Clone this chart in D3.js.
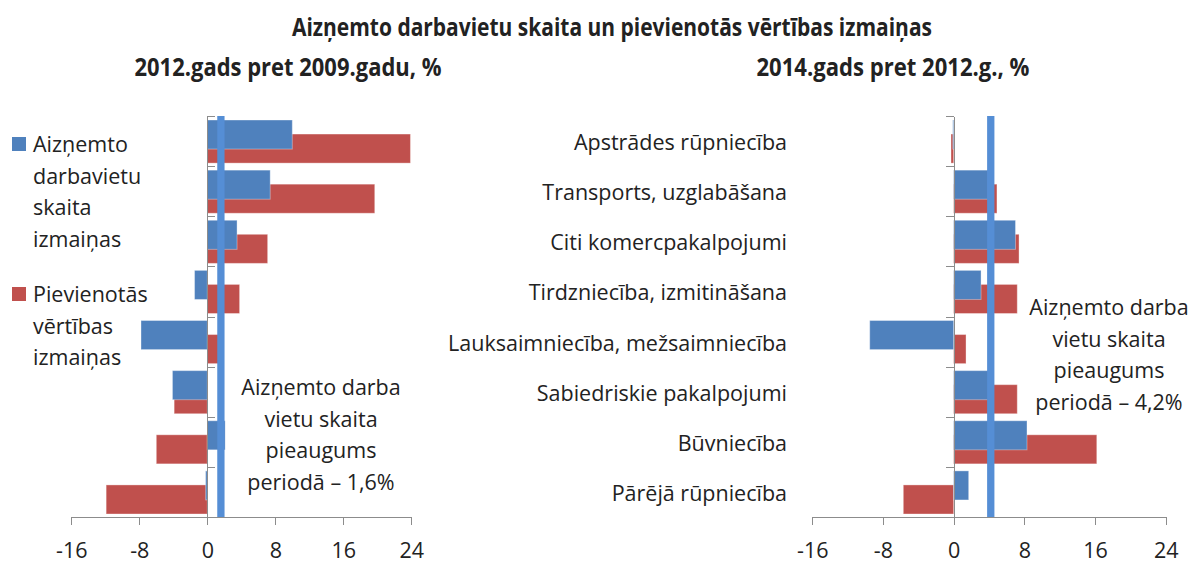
<!DOCTYPE html>
<html lang="lv">
  <head>
    <meta charset="UTF-8" />
    <title>Aizņemto darbavietu skaita un pievienotās vērtības izmaiņas</title>
    <script src="https://d3js.org/d3.v7.min.js"></script>
    <style>
      body {
        margin: 0;
        background: #fff;
        font-family: "Open Sans", sans-serif;
      }
      svg text {
        fill: #222;
      }
      .axis path,
      .axis line {
        stroke: #8c8c8c;
        shape-rendering: crispEdges;
      }
      .title {
        font-weight: 700;
        font-size: 25px;
      }
    </style>
  </head>
  <body>
    <script>
      // --- data ---
      const title = "Aizņemto darbavietu skaita un pievienotās vērtības izmaiņas";
      const leftSubtitle = "2012.gads pret 2009.gadu, %";
      const rightSubtitle = "2014.gads pret 2012.g., %";

      const seriesNames = [
        ["Aizņemto", "darbavietu", "skaita", "izmaiņas"],
        ["Pievienotās", "vērtības", "izmaiņas"],
      ];

      const xTicks = [-16, -8, 0, 8, 16, 24];

      // left panel: categories have no visible labels
      const leftCategories = ["1", "2", "3", "4", "5", "6", "7", "8"];
      const leftEmployment = [10.0, 7.4, 3.5, -1.5, -7.8, -4.1, 2.1, -0.2];
      const leftValueAdded = [23.9, 19.7, 7.1, 3.8, 1.4, -3.9, -6.0, -11.9];
      const leftAverage = 1.6;
      const leftNote = ["Aizņemto darba", "vietu skaita", "pieaugums", "periodā – 1,6%"];

      const rightCategories = [
        "Apstrādes rūpniecība",
        "Transports, uzglabāšana",
        "Citi komercpakalpojumi",
        "Tirdzniecība, izmitināšana",
        "Lauksaimniecība, mežsaimniecība",
        "Sabiedriskie pakalpojumi",
        "Būvniecība",
        "Pārējā rūpniecība",
      ];
      const rightEmployment = [-0.1, 3.9, 7.0, 3.1, -9.5, 4.0, 8.3, 1.7];
      const rightValueAdded = [-0.3, 4.9, 7.4, 7.2, 1.4, 7.2, 16.2, -5.7];
      const rightAverage = 4.2;
      const rightNote = ["Aizņemto darba", "vietu skaita", "pieaugums", "periodā – 4,2%"];

      const blue = "#4f81bd";
      const red = "#c0504d";
      const lineBlue = "#558ed5";

      const width = 1194;
      const height = 563;
      const plotTop = 116;
      const plotBottom = 517;
      const fontSize = 21.5;
      const lineGap = 31.7;

      const svg = d3
        .select("body")
        .append("svg")
        .attr("width", width)
        .attr("height", height);

      // titles
      svg.append("text")
        .attr("class", "title")
        .attr("x", 612)
        .attr("y", 36)
        .attr("text-anchor", "middle")
        .attr("textLength", 640)
        .attr("lengthAdjust", "spacingAndGlyphs")
        .text(title);

      function drawPanel(p) {
        const x = d3.scaleLinear().domain([-16, 24]).range(p.xRange);
        const y = d3.scaleBand().domain(p.categories).range([plotTop, plotBottom]);
        const bw = y.bandwidth();
        const g = svg.append("g");

        g.append("text")
          .attr("class", "title")
          .attr("x", p.subX)
          .attr("y", 76)
          .attr("text-anchor", "middle")
          .attr("textLength", p.subWidth)
          .attr("lengthAdjust", "spacingAndGlyphs")
          .text(p.subtitle);

        // red bars first, blue bars drawn over them
        g.selectAll(".red")
          .data(p.valueAdded)
          .join("rect")
          .attr("x", (d) => x(Math.min(0, d)))
          .attr("width", (d) => Math.abs(x(d) - x(0)))
          .attr("y", (d, i) => y(p.categories[i]) + bw * 0.36)
          .attr("height", bw * 0.58)
          .attr("fill", red)
          .attr("stroke", "rgba(255,255,255,0.35)")
          .attr("stroke-width", 1);

        g.selectAll(".blue")
          .data(p.employment)
          .join("rect")
          .attr("x", (d) => x(Math.min(0, d)))
          .attr("width", (d) => Math.abs(x(d) - x(0)))
          .attr("y", (d, i) => y(p.categories[i]) + bw * 0.08)
          .attr("height", bw * 0.58)
          .attr("fill", blue)
          .attr("stroke", "rgba(255,255,255,0.35)")
          .attr("stroke-width", 1);

        // x axis (plain hyphen for negatives, as in the original)
        const xAxis = g.append("g")
          .attr("class", "axis")
          .attr("transform", `translate(0,${plotBottom})`)
          .call(
            d3.axisBottom(x)
              .tickValues(xTicks)
              .tickSize(8)
              .tickSizeOuter(0)
              .tickFormat((d) => String(d))
          );
        xAxis.selectAll("text")
          .attr("y", 41)
          .attr("dy", 0)
          .style("font-size", fontSize + "px")
          .style("font-family", "'Open Sans', sans-serif");

        // category axis at zero, ticks on band boundaries
        const yIdx = d3.scaleLinear().domain([0, p.categories.length]).range([plotTop, plotBottom]);
        g.append("g")
          .attr("class", "axis")
          .attr("transform", `translate(${x(0)},0)`)
          .call(
            d3.axisLeft(yIdx)
              .tickValues(d3.range(p.categories.length))
              .tickSize(p.tickDir * 8)
              .tickSizeOuter(0)
              .tickFormat("")
          )
          .selectAll("line")
          .attr("stroke", "#b4b4b4");

        if (p.showLabels) {
          g.selectAll(".cat")
            .data(p.categories)
            .join("text")
            .attr("x", 787)
            .attr("y", (d) => y(d) + bw / 2 + 9)
            .attr("text-anchor", "end")
            .style("font-size", fontSize + "px")
            .text((d) => d);
        }

        // average line
        g.append("line")
          .attr("x1", x(p.average))
          .attr("x2", x(p.average))
          .attr("y1", plotTop)
          .attr("y2", plotBottom)
          .attr("stroke", lineBlue)
          .attr("stroke-width", 7.3);

        // note
        g.append("text")
          .attr("text-anchor", "middle")
          .style("font-size", fontSize + "px")
          .selectAll("tspan")
          .data(p.note)
          .join("tspan")
          .attr("x", p.noteX)
          .attr("y", (d, i) => p.noteY + i * lineGap)
          .text((d) => d);
      }

      drawPanel({
        categories: leftCategories,
        employment: leftEmployment,
        valueAdded: leftValueAdded,
        average: leftAverage,
        note: leftNote,
        xRange: [71.3, 411.3],
        subtitle: leftSubtitle,
        subX: 288,
        subWidth: 307,
        tickDir: -1,
        showLabels: false,
        noteX: 321,
        noteY: 395,
      });

      drawPanel({
        categories: rightCategories,
        employment: rightEmployment,
        valueAdded: rightValueAdded,
        average: rightAverage,
        note: rightNote,
        xRange: [812.3, 1165.7],
        subtitle: rightSubtitle,
        subX: 893,
        subWidth: 273,
        tickDir: 1,
        showLabels: true,
        noteX: 1109,
        noteY: 315,
      });

      // legend
      const legendTops = [137, 287];
      const legendColors = [blue, red];
      const legend = svg.append("g");
      seriesNames.forEach((lines, k) => {
        legend.append("rect")
          .attr("x", 12)
          .attr("y", legendTops[k])
          .attr("width", 14)
          .attr("height", 14)
          .attr("fill", legendColors[k]);
        legend.append("text")
          .style("font-size", fontSize + "px")
          .selectAll("tspan")
          .data(lines)
          .join("tspan")
          .attr("x", 33)
          .attr("y", (d, i) => legendTops[k] + 15 + i * lineGap)
          .text((d) => d);
      });
    </script>
  </body>
</html>
